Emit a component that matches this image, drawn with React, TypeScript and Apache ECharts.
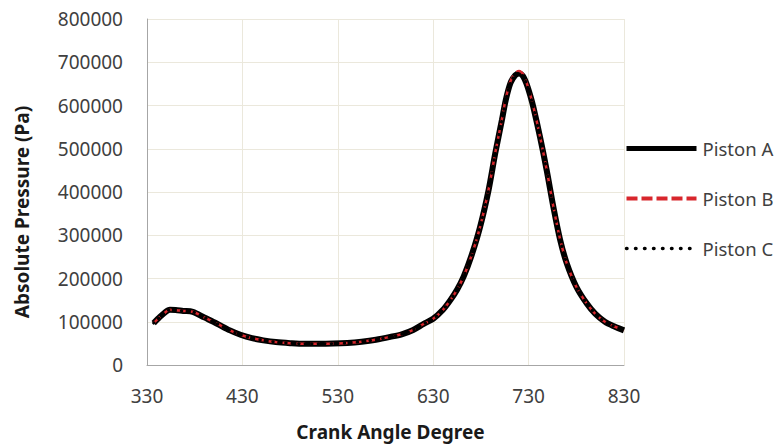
import React, { useEffect, useRef } from "react";
import * as echarts from "echarts";

const angles = [337, 342, 348, 354, 360, 368, 378, 390, 403, 417, 428, 440, 452, 465, 480, 495, 510, 525, 540, 555, 570, 585, 597, 609, 620, 630, 640, 648, 655, 662, 670, 679, 688, 695, 702, 706, 711, 716, 720, 724, 728, 732, 735, 742, 749, 756, 763, 770, 780, 791, 800, 810, 820, 830];
const pistonA = [97000, 108000, 120000, 127500, 127000, 125000, 123000, 110000, 96000, 80000, 70000, 62000, 57000, 53000, 50500, 49000, 49000, 49500, 51000, 54000, 58500, 65000, 71000, 81000, 95000, 107000, 127000, 150000, 174000, 205000, 252000, 318000, 404000, 489000, 566000, 612000, 652000, 670000, 674000, 668000, 649000, 621000, 596000, 527000, 450000, 365000, 290000, 235000, 181000, 142000, 118000, 100000, 89000, 80000];
const pistonB = [97000, 108000, 120000, 127500, 127000, 125000, 123000, 110000, 96000, 80000, 70000, 62000, 57000, 53000, 50500, 49000, 49000, 49500, 51000, 54000, 58500, 65000, 71000, 81000, 95000, 107000, 127000, 150000, 174000, 205000, 252000, 318000, 405000, 490000, 568000, 615000, 656000, 675000, 680000, 673000, 652000, 623000, 598000, 528000, 451000, 366000, 291000, 235000, 181000, 142000, 118000, 100000, 89000, 80000];
const pistonC = [97000, 108000, 120000, 127500, 127000, 125000, 123000, 110000, 96000, 80000, 70000, 62000, 57000, 53000, 50500, 49000, 49000, 49500, 51000, 54000, 58500, 65000, 71000, 81000, 95000, 107000, 127000, 150000, 174000, 205000, 252000, 318000, 404000, 489000, 566000, 612000, 653000, 671000, 675000, 669000, 649000, 621000, 596000, 527000, 450000, 365000, 290000, 235000, 181000, 142000, 118000, 100000, 89000, 80000];

const xStart = 330;
const xEnd = 830;
const xStep = 100;
const yMax = 800000;
const yStep = 100000;

const seriesNames = ["Piston A", "Piston B", "Piston C"];
const xTitle = "Crank Angle Degree";
const yTitle = "Absolute Pressure (Pa)";

const FONT = "'Noto Sans', 'Open Sans', sans-serif";

function pairs(vals: number[]) {
  return angles.map((a, i) => [a - xStart, vals[i]]);
}

export default function App() {
  const ref = useRef<HTMLDivElement>(null);
  useEffect(() => {
    document.body.style.margin = "0";
    if (!ref.current) return;
    const chart = echarts.init(ref.current, undefined, { renderer: "svg" });
    const red = "#d8262c";
    chart.setOption({
      animation: false,
      backgroundColor: "#ffffff",
      grid: { left: 147, right: 157, top: 19, bottom: 82, containLabel: false },
      legend: {
        orient: "vertical",
        left: 624,
        top: 139,
        padding: 0,
        itemWidth: 70,
        itemHeight: 16,
        itemGap: 31,
        itemStyle: { opacity: 0 },
        textStyle: { fontFamily: FONT, fontSize: 18.5, color: "#404040", padding: [0, 0, 0, 1] },
        data: [
          { name: seriesNames[0], itemStyle: { opacity: 0 }, lineStyle: { width: 5, color: "#000000", type: "solid" } },
          { name: seriesNames[1], itemStyle: { opacity: 0 }, lineStyle: { width: 4, color: red, type: [11, 4] } },
          { name: seriesNames[2], itemStyle: { opacity: 0 }, lineStyle: { width: 3.5, color: "#000000", type: [0.5, 8.5], cap: "round" } },
        ],
      },
      xAxis: {
        type: "value",
        min: 0,
        max: xEnd - xStart,
        interval: xStep,
        axisLine: { show: true, lineStyle: { color: "#a6a6a6", width: 1 } },
        axisTick: { show: false },
        splitLine: { show: true, lineStyle: { color: "#ebe8dc", width: 1 } },
        axisLabel: {
          margin: 21,
          fontFamily: FONT,
          fontSize: 19,
          color: "#404040",
          formatter: (v: number) => String(v + xStart),
        },
      },
      yAxis: {
        type: "value",
        min: 0,
        max: yMax,
        interval: yStep,
        axisLine: { show: true, lineStyle: { color: "#a6a6a6", width: 1 } },
        axisTick: { show: false },
        splitLine: { show: true, lineStyle: { color: "#ebe8dc", width: 1 } },
        axisLabel: {
          margin: 24,
          fontFamily: FONT,
          fontSize: 19,
          color: "#404040",
          formatter: (v: number) => String(v),
        },
      },
      graphic: [
        {
          type: "text",
          left: "center",
          top: 422,
          style: {
            text: xTitle,
            fontFamily: FONT,
            fontSize: 19,
            fontWeight: "bold",
            fill: "#1a1a1a",
          },
          z: 10,
        },
        {
          type: "text",
          x: 22,
          y: 212,
          rotation: Math.PI / 2,
          style: {
            text: yTitle,
            fontFamily: FONT,
            fontSize: 19,
            fontWeight: "bold",
            fill: "#1a1a1a",
            align: "center",
            verticalAlign: "middle",
          },
          z: 10,
        },
      ],
      series: [
        {
          name: seriesNames[0],
          type: "line",
          data: pairs(pistonA),
          symbol: "none",
          smooth: 0.3,
          itemStyle: { color: "#000000" },
          lineStyle: { color: "#000000", width: 6 },
          z: 2,
        },
        {
          name: seriesNames[1],
          type: "line",
          data: pairs(pistonB),
          symbol: "none",
          smooth: 0.3,
          itemStyle: { color: red },
          lineStyle: { color: red, width: 2.5, type: [9, 5] },
          z: 3,
        },
        {
          name: seriesNames[2],
          type: "line",
          data: pairs(pistonC),
          symbol: "none",
          smooth: 0.3,
          itemStyle: { color: "#000000" },
          lineStyle: { color: "#000000", width: 3, type: [0.5, 6], cap: "round" },
          z: 4,
        },
      ],
    });
    return () => chart.dispose();
  }, []);
  return <div ref={ref} style={{ width: 781, height: 447 }} />;
}
